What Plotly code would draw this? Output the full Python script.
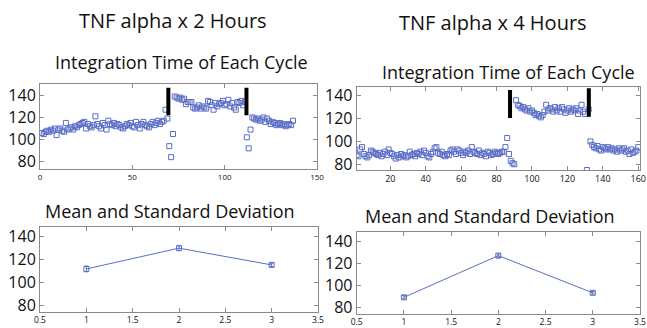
import plotly.graph_objects as go

# ---------------- data ----------------
tl_values = [
    106,105,107,108,107,109,108,110,104,109,
    110,108,107,115,109,110,111,109,112,111,
    113,114,115,116,110,114,112,111,113,121,
    114,112,110,115,113,109,117,114,113,115,
    112,114,113,111,110,112,114,113,115,112,
    111,116,113,110,114,116,113,112,111,114,
    116,113,115,117,114,116,117,
    127,119,94,84,105,
    139,138,137,138,136,137,132,134,134,134,
    129,128,129,131,128,130,129,128,135,134,
    131,127,133,130,132,133,135,131,132,136,
    130,133,129,127,134,133,135,131,134,
    102,92,109,120,119,118,119,117,118,120,
    116,119,117,114,116,115,113,114,115,113,
    114,112,113,114,113,117,
]
tl_cycles = list(range(1, len(tl_values) + 1))

tr_values = [
    88,87,93,95,89,87,86,88,92,91,
    90,89,88,90,87,89,91,88,93,90,
    89,87,85,88,86,89,87,88,86,87,
    91,88,89,87,90,89,91,88,92,90,
    87,86,89,91,94,95,90,89,91,88,
    87,89,88,92,93,91,89,93,92,90,
    88,91,90,92,89,95,91,90,89,92,
    88,90,89,87,91,90,88,89,91,90,
    89,90,91,91,95,103,89,83,81,80,
    136,132,131,129,130,128,127,129,126,127,
    125,123,124,122,121,123,126,132,127,129,
    128,126,130,127,129,126,130,128,125,127,
    129,126,128,127,129,124,127,132,126,124,
    75,128,100,97,95,94,96,93,92,95,
    94,93,95,93,94,92,93,91,94,92,
    93,94,91,92,89,93,90,91,92,95,
]
tr_cycles = list(range(1, len(tr_values) + 1))

tl_bar_x = [69.5, 111.8]
tr_bar_x = [87.6, 132.1]
bar_low = [122, 122]
bar_high = [147, 147]
tr_bar_low = [120.5, 121.5]
tr_bar_high = [145, 146.5]

groups = [1, 2, 3]
bl_mean = [111.5, 129.6, 115.0]
bl_sd = [2.5, 2.0, 1.5]
br_mean = [89.2, 127.2, 93.3]
br_sd = [1.5, 1.5, 1.2]

titles = ["TNF alpha x 2 Hours", "TNF alpha x 4 Hours"]
sub_top = "Integration Time of Each Cycle"
sub_bottom = "Mean and Standard Deviation"

# ---------------- style ----------------
BLUE = "#5a6ec6"
FRAME = "#8a8a8a"
FONT = "Open Sans"
W, H = 647, 328

def px_x(a, b):
    return [a / W, b / W]

def px_y(top, bottom):
    return [1 - bottom / H, 1 - top / H]

fig = go.Figure()

marker = dict(symbol="square-open", size=5, color=BLUE, line=dict(width=1, color=BLUE))

fig.add_trace(go.Scatter(x=tl_cycles, y=tl_values, mode="markers", marker=marker,
                         xaxis="x", yaxis="y", showlegend=False))
fig.add_trace(go.Scatter(x=tr_cycles, y=tr_values, mode="markers", marker=marker,
                         xaxis="x2", yaxis="y2", showlegend=False))

# black separator bars
for i in range(2):
    fig.add_trace(go.Scatter(x=[tl_bar_x[i], tl_bar_x[i]], y=[bar_low[i], bar_high[i]],
                             mode="lines", line=dict(color="black", width=4),
                             xaxis="x", yaxis="y", showlegend=False))
    fig.add_trace(go.Scatter(x=[tr_bar_x[i], tr_bar_x[i]], y=[tr_bar_low[i], tr_bar_high[i]],
                             mode="lines", line=dict(color="black", width=4),
                             xaxis="x2", yaxis="y2", showlegend=False))

fig.add_trace(go.Scatter(x=groups, y=bl_mean, mode="lines+markers",
                         marker=dict(symbol="square-open", size=5, color=BLUE),
                         line=dict(color=BLUE, width=1),
                         error_y=dict(type="data", array=bl_sd, color=BLUE, thickness=1, width=2),
                         xaxis="x3", yaxis="y3", showlegend=False))
fig.add_trace(go.Scatter(x=groups, y=br_mean, mode="lines+markers",
                         marker=dict(symbol="square-open", size=5, color=BLUE),
                         line=dict(color=BLUE, width=1),
                         error_y=dict(type="data", array=br_sd, color=BLUE, thickness=1, width=2),
                         xaxis="x4", yaxis="y4", showlegend=False))

def ax(domain, rng, dtick, anchor, fsize, tickvals=None):
    d = dict(domain=domain, range=rng, showgrid=False, zeroline=False,
             showline=True, linecolor=FRAME, linewidth=1, mirror="ticks",
             ticks="inside", ticklen=4, tickcolor=FRAME, tickwidth=1,
             tickfont=dict(family=FONT, size=fsize, color="#111"),
             anchor=anchor, fixedrange=True, automargin=False)
    if tickvals is not None:
        d["tickvals"] = tickvals
    else:
        d["dtick"] = dtick
        d["tick0"] = 0
    return d

yt = [80, 100, 120, 140]
fig.update_layout(
    width=W, height=H, margin=dict(l=0, r=0, t=0, b=0, autoexpand=False),
    paper_bgcolor="white", plot_bgcolor="white",
    xaxis=ax(px_x(40, 317), [0, 150], 50, "y", 8),
    yaxis=ax(px_y(84, 169.3), [73, 150.3], None, "x", 16, yt),
    xaxis2=ax(px_x(356.7, 640), [1, 161], 20, "y2", 9),
    yaxis2=ax(px_y(87.3, 170), [75, 147.3], None, "x2", 16, yt),
    xaxis3=ax(px_x(40, 318), [0.5, 3.5], 0.5, "y3", 8.5),
    yaxis3=ax(px_y(227, 312), [74, 148], None, "x3", 16, yt),
    xaxis4=ax(px_x(356.7, 640), [0.5, 3.5], 0.5, "y4", 8.5),
    yaxis4=ax(px_y(231.7, 314), [74, 149], None, "x4", 16, yt),
)

def ann(text, x, y, size):
    fig.add_annotation(text=text, x=x / W, y=1 - y / H, xref="paper", yref="paper",
                       xanchor="center", yanchor="middle", showarrow=False,
                       font=dict(family=FONT, size=size, color="#111"))

ann(titles[0], 173, 21, 20)
ann(titles[1], 493, 22, 20)
ann(sub_top, 181.7, 62, 18)
ann(sub_top, 508.3, 72, 18)
ann(sub_bottom, 170, 211, 18)
ann(sub_bottom, 490, 216, 18)

fig.write_html("out.html", config={"displayModeBar": False},
               post_script="document.body.style.margin='0';document.body.style.overflow='hidden';")
